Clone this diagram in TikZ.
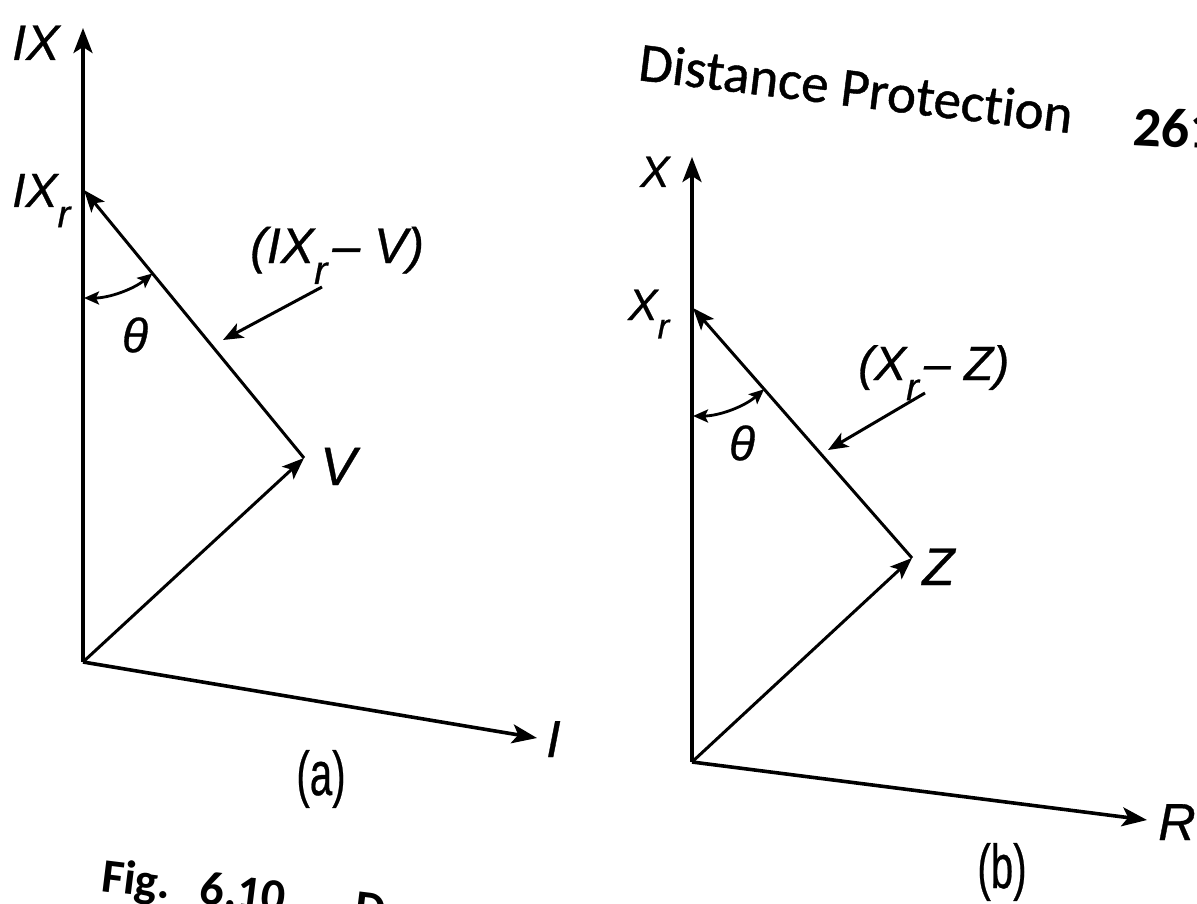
\documentclass[tikz,border=0pt]{standalone}
\usepackage{fontspec}
\setmainfont[Ligatures=NoCommon]{Carlito}
\newfontfamily\headfont[Ligatures=NoCommon,FakeBold=0.8]{Carlito}
\newfontfamily\labfont[FakeBold=0.6]{Liberation Sans}
\usetikzlibrary{arrows.meta}
\newcommand\subr{\raisebox{-0.42em}{\scalebox{0.8}{r}}}
\begin{document}
\begin{tikzpicture}[x=1pt,y=-1pt,
  axis/.style={line width=3.6pt,-{Stealth[length=25pt,width=19pt,inset=6pt]}},
  vec/.style={line width=3pt,-{Stealth[length=22pt,width=17pt,inset=5pt]}},
  pointer/.style={line width=3pt,-{Stealth[length=20pt,width=16pt,inset=5pt]}},
  anglearc/.style={line width=2.8pt,{Stealth[length=15pt,width=13pt,inset=3pt]}-{Stealth[length=15pt,width=13pt,inset=3pt]}},
  lab/.style={font=\labfont\itshape\fontsize{#1pt}{#1pt}\selectfont, inner sep=0pt, anchor=base west},
  partlabel/.style={font=\labfont\fontsize{62pt}{62pt}\selectfont, inner sep=0pt, anchor=center}]
\useasboundingbox[fill=white] (0,0) rectangle (1197,904);

% ---------- (a) ----------
\coordinate (Oa) at (83,662);
\coordinate (Ya) at (83,28);
\coordinate (IXr) at (84,190);
\coordinate (Va) at (304,458);
\coordinate (Ia) at (537,738);
\coordinate (Pa1) at (322,287);
\coordinate (Pa2) at (223,340);

\draw[axis] (Oa) -- (Ya);
\draw[axis] (Oa) -- (Ia);
\draw[vec] (Oa) -- (Va);
\draw[vec] (Va) -- (IXr);
\draw[pointer] (Pa1) -- (Pa2);
\draw[anglearc] ([shift={(-90:108pt)}]IXr) arc[start angle=-90,end angle=-50.6,radius=108pt];

\node[lab=50] (lIX) at (12,60) {IX};
\node[lab=48] (lIXr) at (12,207) {IX\subr};
\node[lab=48,anchor=center] (tha) at (135,335) {θ};
\node[lab=50] (lIXV) at (250,263) {(IX\subr\hspace{5pt}– V)};
\node[lab=54] (lV) at (320,485) {V};
\node[lab=52] (lI) at (546,757) {I};
\node[partlabel] (capa) at (321,779) {\scalebox{0.65}[1]{(a)}};

% ---------- (b) ----------
\coordinate (Ob) at (692,762);
\coordinate (Yb) at (692,157);
\coordinate (Xr) at (693,308);
\coordinate (Zb) at (912,558);
\coordinate (Rb) at (1147,820);
\coordinate (Pb1) at (925,393);
\coordinate (Pb2) at (828,450);

\draw[axis] (Ob) -- (Yb);
\draw[axis] (Ob) -- (Rb);
\draw[vec] (Ob) -- (Zb);
\draw[vec] (Zb) -- (Xr);
\draw[pointer] (Pb1) -- (Pb2);
\draw[anglearc] ([shift={(-90:108pt)}]Xr) arc[start angle=-90,end angle=-48.8,radius=108pt];

\node[lab=44] (lX) at (640,187) {X};
\node[lab=44] (lXr) at (628,320) {X\subr};
\node[lab=48,anchor=center] (thb) at (742,443) {θ};
\node[lab=48] (lXZ) at (858,380) {(X\subr\hspace{5pt}– Z)};
\node[lab=53] (lZ) at (922,585) {Z};
\node[lab=52] (lR) at (1158,840) {R};
\node[partlabel] (capb) at (1002,872) {\scalebox{0.65}[1]{(b)}};

% ---------- page texts ----------
\node[font=\headfont\fontsize{55pt}{55pt}\selectfont, anchor=base west, rotate=-7, inner sep=0pt] (head) at (637,80) {Distance Protection};
\node[font=\bfseries\fontsize{56pt}{56pt}\selectfont, anchor=base west, rotate=-3, inner sep=0pt] (page) at (1132,145) {261};
\node[font=\bfseries\fontsize{48pt}{48pt}\selectfont, anchor=base west, rotate=-7, inner sep=0pt] (fig) at (100,891) {Fig.\hspace{30pt}6.10\hspace{70pt}D};
\end{tikzpicture}
\end{document}
